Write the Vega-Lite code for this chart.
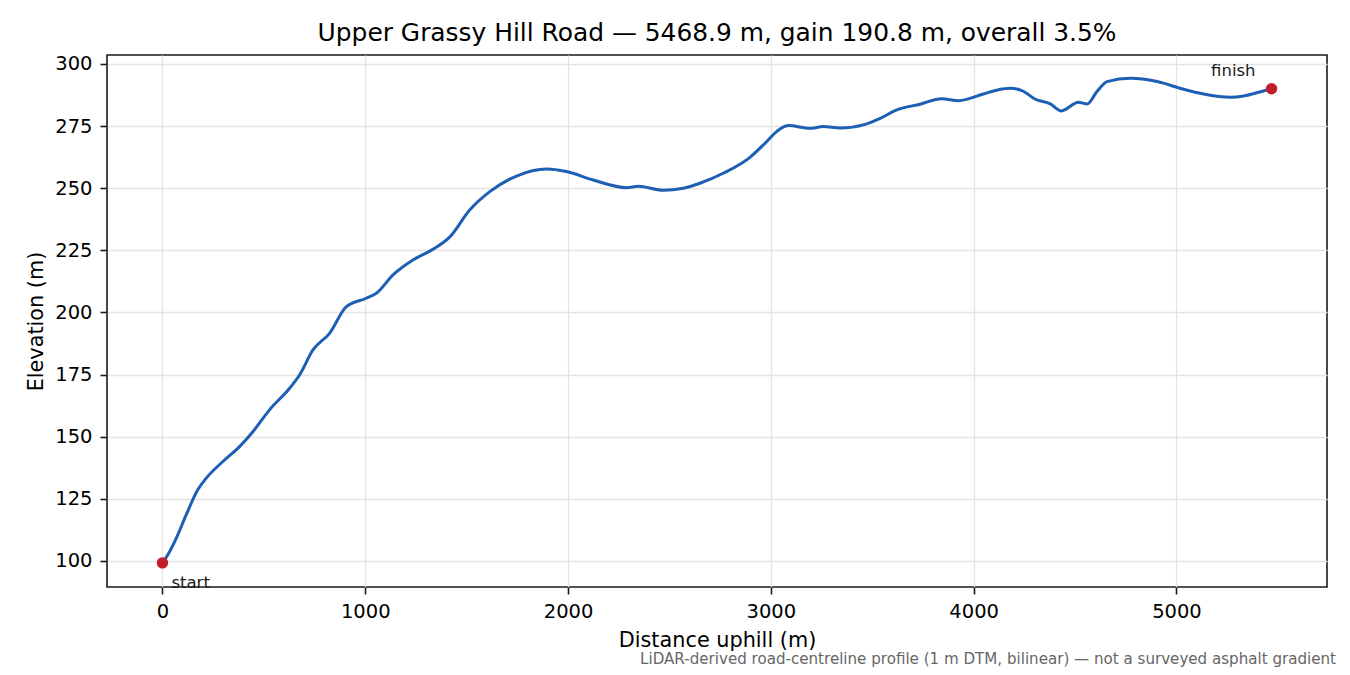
{
  "$schema": "https://vega.github.io/schema/vega-lite/v6.json",
  "width": 1220,
  "height": 532,
  "autosize": {"type": "none"},
  "padding": {"left": 107, "top": 55, "right": 23, "bottom": 88},
  "background": "white",
  "config": {
    "font": "DejaVu Sans",
    "view": {"stroke": "#1a1a1a", "strokeWidth": 1.6},
    "axis": {
      "domain": false,
      "grid": true,
      "gridColor": "#e4e4e4",
      "gridWidth": 1.3,
      "tickColor": "#1a1a1a",
      "tickSize": 7,
      "tickWidth": 1.6,
      "labelFont": "DejaVu Sans",
      "labelFontSize": 19.5,
      "labelColor": "#000000",
      "labelPadding": 8,
      "titleFont": "DejaVu Sans",
      "titleFontSize": 20.8,
      "titleFontWeight": "normal",
      "titleColor": "#000000"
    }
  },
  "title": {
    "text": "Upper Grassy Hill Road — 5468.9 m, gain 190.8 m, overall 3.5%",
    "font": "DejaVu Sans",
    "fontSize": 24.9,
    "fontWeight": "normal",
    "color": "#000000",
    "anchor": "middle",
    "frame": "group",
    "baseline": "alphabetic",
    "offset": 13,
    "dy": 25
  },
  "datasets": {
    "profile": [
      {"d": 0, "e": 99.2},
      {"d": 26, "e": 102.4},
      {"d": 68, "e": 109.1},
      {"d": 117, "e": 118.5},
      {"d": 174, "e": 128.6},
      {"d": 216, "e": 133.3},
      {"d": 298, "e": 140.0},
      {"d": 380, "e": 146.0},
      {"d": 446, "e": 152.0},
      {"d": 528, "e": 160.8},
      {"d": 627, "e": 169.5},
      {"d": 676, "e": 174.8},
      {"d": 742, "e": 184.9},
      {"d": 824, "e": 191.6},
      {"d": 907, "e": 202.3},
      {"d": 1005, "e": 205.7},
      {"d": 1055, "e": 207.7},
      {"d": 1137, "e": 215.1},
      {"d": 1235, "e": 221.1},
      {"d": 1334, "e": 225.4},
      {"d": 1416, "e": 230.3},
      {"d": 1515, "e": 241.2},
      {"d": 1614, "e": 248.6},
      {"d": 1746, "e": 254.9},
      {"d": 1894, "e": 257.7},
      {"d": 1992, "e": 256.7},
      {"d": 2124, "e": 253.3},
      {"d": 2289, "e": 250.2},
      {"d": 2346, "e": 250.8},
      {"d": 2469, "e": 249.2},
      {"d": 2568, "e": 250.0},
      {"d": 2650, "e": 252.0},
      {"d": 2765, "e": 256.0},
      {"d": 2897, "e": 262.4},
      {"d": 2963, "e": 267.4},
      {"d": 3045, "e": 273.8},
      {"d": 3086, "e": 275.2},
      {"d": 3193, "e": 274.1},
      {"d": 3259, "e": 274.8},
      {"d": 3341, "e": 274.2},
      {"d": 3465, "e": 275.7},
      {"d": 3539, "e": 278.1},
      {"d": 3621, "e": 281.5},
      {"d": 3736, "e": 283.8},
      {"d": 3843, "e": 286.0},
      {"d": 3925, "e": 285.2},
      {"d": 4048, "e": 287.9},
      {"d": 4122, "e": 289.6},
      {"d": 4180, "e": 290.2},
      {"d": 4238, "e": 289.3},
      {"d": 4304, "e": 285.8},
      {"d": 4378, "e": 283.9},
      {"d": 4432, "e": 281.1},
      {"d": 4517, "e": 284.6},
      {"d": 4559, "e": 283.9},
      {"d": 4608, "e": 288.9},
      {"d": 4658, "e": 292.9},
      {"d": 4773, "e": 294.2},
      {"d": 4904, "e": 292.9},
      {"d": 5036, "e": 289.8},
      {"d": 5134, "e": 287.9},
      {"d": 5266, "e": 286.6},
      {"d": 5332, "e": 287.1},
      {"d": 5415, "e": 288.8},
      {"d": 5468.9, "e": 290.0}
    ],
    "ends": [
      {"d": 0, "e": 99.2, "label": "start"},
      {"d": 5468.9, "e": 290.0, "label": "finish"}
    ],
    "note": [
      {"caption": "LiDAR-derived road-centreline profile (1 m DTM, bilinear) — not a surveyed asphalt gradient"}
    ]
  },
  "layer": [
    {
      "data": {"name": "profile"},
      "mark": {"type": "line", "color": "#1c5fb4", "strokeWidth": 3, "interpolate": "monotone"},
      "encoding": {
        "x": {
          "field": "d",
          "type": "quantitative",
          "scale": {"domain": [-273.4, 5742.3], "nice": false, "zero": false},
          "axis": {
            "title": "Distance uphill (m)",
            "values": [0, 1000, 2000, 3000, 4000, 5000],
            "format": "d",
            "titleY": 59,
            "titleBaseline": "alphabetic"
          }
        },
        "y": {
          "field": "e",
          "type": "quantitative",
          "scale": {"domain": [89.5, 303.6], "nice": false, "zero": false},
          "axis": {
            "title": "Elevation (m)",
            "values": [100, 125, 150, 175, 200, 225, 250, 275, 300],
            "format": "d",
            "titleX": -65,
            "titleY": 266,
            "titleBaseline": "alphabetic"
          }
        }
      }
    },
    {
      "data": {"name": "ends"},
      "mark": {"type": "point", "filled": true, "color": "#c21d2b", "size": 130, "opacity": 1},
      "encoding": {
        "x": {"field": "d", "type": "quantitative"},
        "y": {"field": "e", "type": "quantitative"}
      }
    },
    {
      "data": {"name": "ends"},
      "transform": [{"filter": "datum.label === 'start'"}],
      "mark": {"type": "text", "align": "left", "baseline": "alphabetic", "dx": 9, "dy": 25, "fontSize": 16.5, "color": "#1a1a1a"},
      "encoding": {
        "x": {"field": "d", "type": "quantitative"},
        "y": {"field": "e", "type": "quantitative"},
        "text": {"field": "label"}
      }
    },
    {
      "data": {"name": "ends"},
      "transform": [{"filter": "datum.label === 'finish'"}],
      "mark": {"type": "text", "align": "right", "baseline": "alphabetic", "dx": -16, "dy": -13, "fontSize": 16.5, "color": "#1a1a1a"},
      "encoding": {
        "x": {"field": "d", "type": "quantitative"},
        "y": {"field": "e", "type": "quantitative"},
        "text": {"field": "label"}
      }
    },
    {
      "data": {"name": "note"},
      "mark": {"type": "text", "align": "right", "baseline": "alphabetic", "dx": 9, "dy": 77, "fontSize": 15.1, "color": "#666666"},
      "encoding": {
        "x": {"datum": 5742.3},
        "y": {"datum": 89.5},
        "text": {"field": "caption"}
      }
    }
  ]
}
